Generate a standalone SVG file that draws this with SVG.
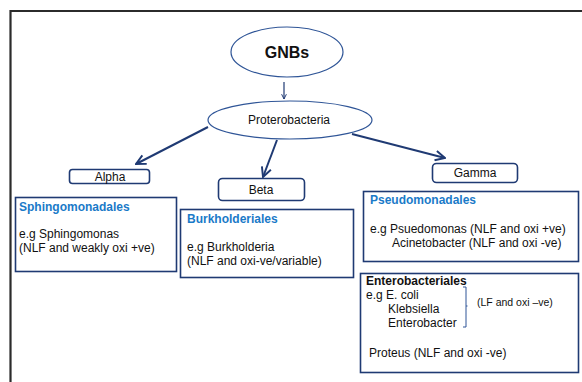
<svg xmlns="http://www.w3.org/2000/svg" width="582" height="382" viewBox="0 0 582 382">
<defs>
<marker id="ah" viewBox="0 0 10 10" refX="9" refY="5" markerWidth="6" markerHeight="6" orient="auto" markerUnits="userSpaceOnUse">
<path d="M1,1 L9,5 L1,9" fill="none" stroke="#1f3a73" stroke-width="1.6"/>
</marker>
<marker id="ahb" viewBox="0 0 10 10" refX="9" refY="5" markerWidth="12" markerHeight="12" orient="auto" markerUnits="userSpaceOnUse">
<path d="M1,1 L9,5 L1,9" fill="none" stroke="#1f3a73" stroke-width="1.6"/>
</marker>
</defs>
<style>
text{font-family:"Liberation Sans",Arial,sans-serif;font-size:12px;fill:#111}
.box{fill:#fff;stroke:#1f3a73;stroke-width:1.6}
.ell{fill:#fff;stroke:#2f5597;stroke-width:1.2}
.lbl{fill:#fff;stroke:#1f3a73;stroke-width:1.6}
.hd{font-weight:bold;fill:#1a7ac8}
.conn{stroke:#1f3a73;stroke-width:2;fill:none}
.c{text-anchor:middle}
</style>
<rect x="0" y="0" width="582" height="382" fill="#fff"/>
<path d="M10.5,382 V11 H582" fill="none" stroke="#2b2b2b" stroke-width="2.2"/>
<g id="connectors">
<line x1="284" y1="82" x2="284" y2="99" stroke="#1f3a73" stroke-width="1.2" marker-end="url(#ah)"/>
<line class="conn" x1="208" y1="127" x2="136" y2="164" marker-end="url(#ahb)"/>
<line class="conn" x1="277" y1="140" x2="263" y2="177" marker-end="url(#ahb)"/>
<line class="conn" x1="352" y1="134" x2="445" y2="158" marker-end="url(#ahb)"/>
</g>
<g id="gnbs">
<ellipse class="ell" cx="287" cy="52" rx="56" ry="25"/>
<text class="c" x="287" y="58" style="font-size:16px;font-weight:bold">GNBs</text>
</g>
<g id="proterobacteria">
<ellipse class="ell" cx="290" cy="120" rx="82" ry="19"/>
<text class="c" x="289" y="124">Proterobacteria</text>
</g>
<g id="alpha">
<rect class="lbl" x="69.5" y="169.5" width="80" height="14" rx="3"/>
<text class="c" x="110" y="181">Alpha</text>
</g>
<g id="beta">
<rect class="lbl" x="218.5" y="178.5" width="86" height="22" rx="4"/>
<text class="c" x="261" y="194">Beta</text>
</g>
<g id="gamma">
<rect class="lbl" x="432.5" y="163.5" width="85" height="19" rx="4"/>
<text class="c" x="475" y="177">Gamma</text>
</g>
<g id="sphingomonadales">
<rect class="box" x="15.5" y="197.5" width="161" height="74"/>
<text class="hd" x="19" y="211">Sphingomonadales</text>
<text x="19" y="238">e.g Sphingomonas</text>
<text x="19" y="252">(NLF and weakly oxi +ve)</text>
</g>
<g id="burkholderiales">
<rect class="box" x="180.5" y="209.5" width="173" height="68"/>
<text class="hd" x="187" y="223">Burkholderiales</text>
<text x="187" y="251">e.g Burkholderia</text>
<text x="187" y="265">(NLF and oxi-ve/variable)</text>
</g>
<g id="pseudomonadales">
<rect class="box" x="363.5" y="191.5" width="215" height="70"/>
<text class="hd" x="370" y="204">Pseudomonadales</text>
<text x="370" y="233">e.g Psuedomonas (NLF and oxi +ve)</text>
<text x="392" y="247">Acinetobacter (NLF and oxi -ve)</text>
</g>
<g id="enterobacteriales">
<rect class="box" x="360.5" y="273.5" width="218" height="99"/>
<text x="366" y="285" style="font-weight:bold">Enterobacteriales</text>
<text x="366" y="299">e.g E. coli</text>
<text x="388" y="313">Klebsiella</text>
<text x="388" y="327">Enterobacter</text>
<path d="M463,287 H466 V327 H463 M466,306 H467.5" fill="none" stroke="#2f5597" stroke-width="1"/>
<text x="477" y="306" style="font-size:10.5px">(LF and oxi –ve)</text>
<text x="369" y="357">Proteus (NLF and oxi -ve)</text>
</g>
</svg>
